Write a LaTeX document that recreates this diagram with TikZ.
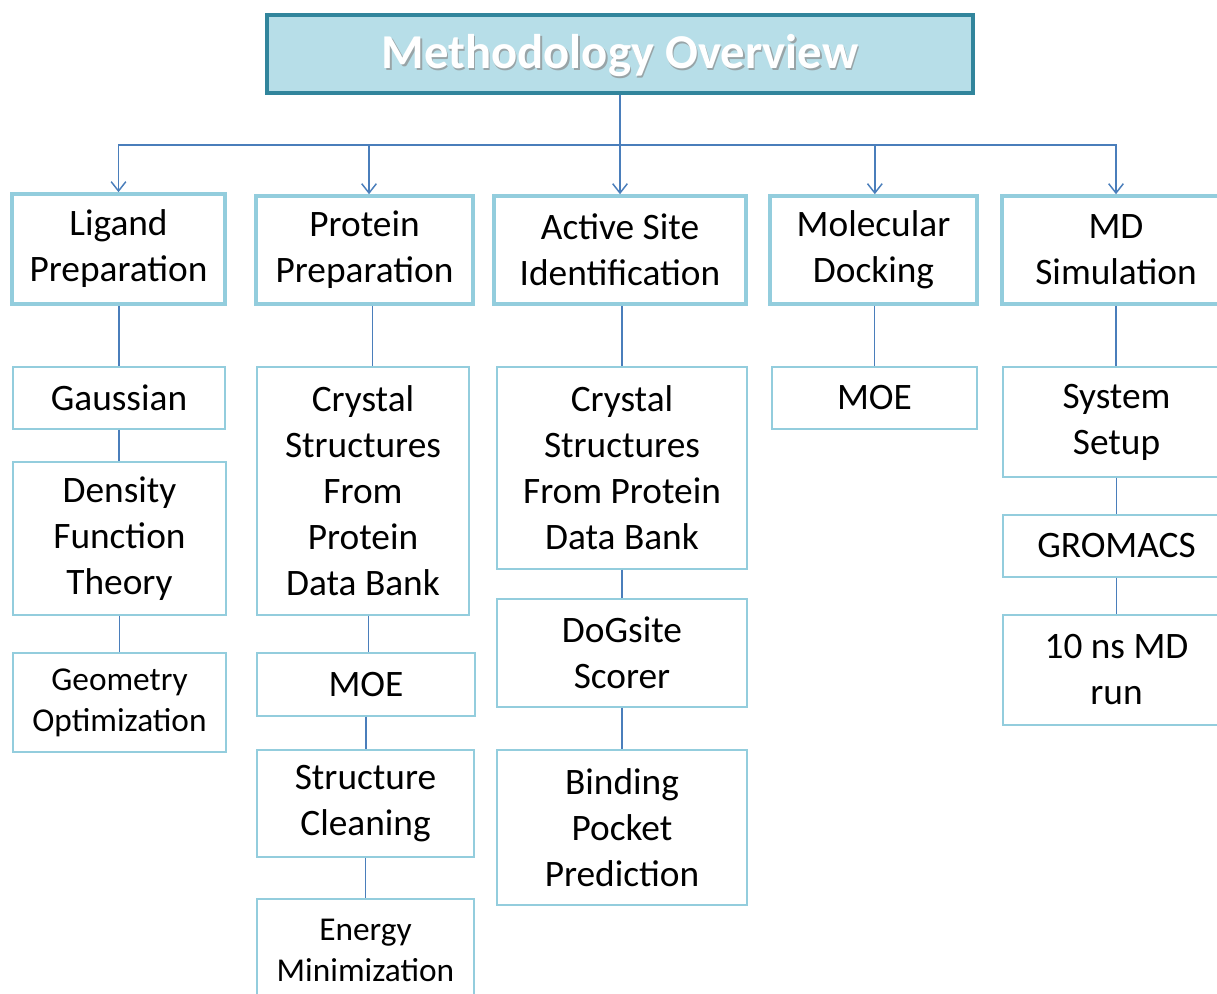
\documentclass[tikz,border=0pt]{standalone}
\usepackage{fontspec}
\setmainfont{Carlito}
\usetikzlibrary{arrows.meta}
\definecolor{bx}{HTML}{93CDDD}
\definecolor{ln}{HTML}{4A7EBB}
\definecolor{tfill}{HTML}{B7DEE8}
\definecolor{tbord}{HTML}{31859C}
\begin{document}
\begin{tikzpicture}[x=0.75pt,y=-0.75pt,
 sz/.style 2 args={minimum width=#1*0.75pt, minimum height=#2*0.75pt},
 base/.style={draw=bx, rectangle, inner sep=0pt, align=center, font=\fontsize{28}{34.5}\selectfont, text=black},
 lvl/.style={base, line width=2.7pt},
 sub/.style={base, line width=1.1pt},
 small/.style={font=\fontsize{25}{30.75}\selectfont},
 conn/.style={draw=ln, line width=1.1pt},
 arr/.style={conn, -{Straight Barb[length=7pt,width=11pt,line width=1.1pt]}},
 ttl/.style={inner sep=0pt, font=\bfseries\fontsize{36.5}{40}\selectfont}
]
\useasboundingbox (0,0) rectangle (1217,994);
\clip (0,0) rectangle (1217,994);

% title
\node[draw=tbord, fill=tfill, line width=2.4pt, sz={706}{78}] (title) at (620,54) {};
\node[ttl, text=black!45, opacity=0.7] (tshadow) at (621.5,58) {Methodology Overview};
\node[ttl, text=white] (ttext) at (620,56) {Methodology Overview};

% level 1
\node[lvl, sz={213}{110}] (lig)  at (118.5,249) {Ligand\\Preparation};
\node[lvl, sz={217}{108}] (prot) at (364.5,250) {Protein\\Preparation};
\node[lvl, sz={252}{108}] (act)  at (620,250)   {Active Site\\Identification};
\node[lvl, sz={207}{108}] (dock) at (873.5,250) {Molecular\\Docking};
\node[lvl, sz={228}{108}] (md)   at (1116,250)  {MD\\Simulation};

% column 1
\node[sub, sz={212}{62}]  (gauss) at (119,398)   {Gaussian};
\node[sub, sz={213}{153}] (dft)   at (119.5,538.5) {Density\\Function\\Theory};
\node[sub, small, sz={213}{99}] (geo) at (119.5,702.5) {Geometry\\Optimization};

% column 2
\node[sub, sz={212}{248}] (crys1) at (363,491)   {Crystal\\Structures\\From\\Protein\\Data Bank};
\node[sub, sz={218}{63}]  (moe1)  at (366,684.5) {MOE};
\node[sub, sz={217}{107}] (clean) at (365.5,803.5) {Structure\\Cleaning};
\node[sub, small, sz={217}{102}] (emin) at (365.5,950) {Energy\\Minimization};

% column 3
\node[sub, sz={250}{202}] (crys2) at (622,468)   {Crystal\\Structures\\From Protein\\Data Bank};
\node[sub, sz={250}{108}] (dog)   at (622,653)   {DoGsite\\Scorer};
\node[sub, sz={250}{155}] (bind)  at (622,827.5) {Binding\\Pocket\\Prediction};

% column 4
\node[sub, sz={205}{62}]  (moe2)  at (874.5,398) {MOE};

% column 5
\node[sub, sz={227}{110}] (setup) at (1116.5,422) {System\\Setup};
\node[sub, sz={227}{62}]  (gro)   at (1116.5,546) {GROMACS};
\node[sub, sz={227}{110}] (run)   at (1116.5,670) {10 ns MD\\run};

% connectors from title
\coordinate (bus) at (620,145);
\draw[conn] (title.south) -- (bus);
\draw[arr] (bus) -| (lig.north);
\draw[arr] (bus) -| ([xshift=3.4pt]prot.north);
\draw[arr] (bus) -- (act.north);
\draw[arr] (bus) -| ([xshift=1pt]dock.north);
\draw[arr] (bus) -| (md.north);

% column connectors
\draw[conn] (lig.south -| gauss.north) -- (gauss.north);
\draw[conn] (gauss.south) -- (gauss.south |- dft.north);
\draw[conn] (dft.south) -- (dft.south |- geo.north);

\draw[conn] ([xshift=6pt]prot.south) -- ([xshift=6pt]prot.south |- crys1.north);
\draw[conn] ([xshift=4pt]crys1.south) -- ([xshift=4pt]crys1.south |- moe1.north);
\draw[conn] (moe1.south) -- (moe1.south |- clean.north);
\draw[conn] (clean.south) -- (clean.south |- emin.north);

\draw[conn] (act.south -| crys2.north) -- (crys2.north);
\draw[conn] (crys2.south) -- (dog.north);
\draw[conn] (dog.south) -- (bind.north);

\draw[conn] (dock.south -| moe2.north) -- (moe2.north);

\draw[conn] (md.south) -- (md.south |- setup.north);
\draw[conn] (setup.south) -- (gro.north);
\draw[conn] (gro.south) -- (run.north);
\end{tikzpicture}
\end{document}
